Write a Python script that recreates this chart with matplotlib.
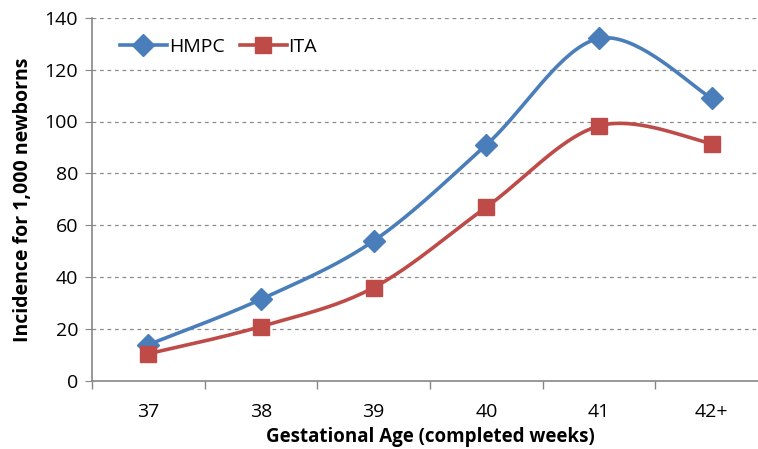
import numpy as np
import matplotlib.pyplot as plt
from matplotlib.ticker import FixedLocator

weeks = ['37', '38', '39', '40', '41', '42+']
hmpc = [14, 31.5, 54, 91, 132, 109]
ita = [10.5, 21, 36, 67, 98.3, 91.5]


def smooth(y, n=40):
    # Catmull-Rom through the points, like Excel's smoothed line
    y = np.asarray(y, dtype=float)
    x = np.arange(len(y), dtype=float)
    px = np.concatenate([[x[0]], x, [x[-1]]])
    py = np.concatenate([[y[0]], y, [y[-1]]])
    xs, ys = [], []
    t = np.linspace(0, 1, n)
    for i in range(1, len(px) - 2):
        for p, out in ((px, xs), (py, ys)):
            p0, p1, p2, p3 = p[i - 1], p[i], p[i + 1], p[i + 2]
            out.extend(0.5 * (2 * p1 + (-p0 + p2) * t
                              + (2 * p0 - 5 * p1 + 4 * p2 - p3) * t ** 2
                              + (-p0 + 3 * p1 - 3 * p2 + p3) * t ** 3))
    return np.array(xs), np.array(ys)


plt.rcParams['font.family'] = ['Open Sans', 'DejaVu Sans']

fig = plt.figure(figsize=(7.58, 4.49), dpi=100)
ax = fig.add_axes([92 / 758, 68 / 449, 676 / 758, 363.3 / 449])

blue = '#4A7EBB'
red = '#BE4B48'
idx = np.arange(len(weeks))

sx, sy = smooth(hmpc)
ax.plot(sx, sy, color=blue, lw=2.6, zorder=3)
ax.plot(idx, hmpc, 'D', color=blue, ms=11, zorder=4)
sx, sy = smooth(ita)
ax.plot(sx, sy, color=red, lw=2.6, zorder=3)
ax.plot(idx, ita, 's', color=red, ms=12, zorder=4)

# legend proxies
ax.plot([], [], color=blue, lw=2.6, marker='D', ms=11, label='HMPC')
ax.plot([], [], color=red, lw=2.6, marker='s', ms=12, label='ITA')
ax.legend(loc='upper left', bbox_to_anchor=(0.03, 0.965), ncol=2, frameon=False,
          fontsize=14, handlelength=2.4, columnspacing=0.8, handletextpad=0.1,
          borderaxespad=0)

ax.set_xlim(-0.5, 5.5)
ax.set_ylim(0, 140)
ax.set_yticks(range(0, 141, 20))
ax.set_xticks(idx)
ax.set_xticklabels(weeks)
ax.xaxis.set_minor_locator(FixedLocator(np.arange(-0.5, 6, 1)))
ax.tick_params(axis='x', which='major', length=0, pad=16, labelsize=14)
ax.tick_params(axis='x', which='minor', length=6, color='#868686', width=1)
ax.tick_params(axis='y', length=5, color='#868686', labelsize=14, pad=5)

for y in range(20, 141, 20):
    ax.axhline(y, color='#8c8c8c', lw=0.9, ls=(0, (3, 3)), zorder=1)

for side in ['top', 'right']:
    ax.spines[side].set_visible(False)
for side in ['left', 'bottom']:
    ax.spines[side].set_color('#868686')
    ax.spines[side].set_linewidth(1.2)

ax.set_xlabel('Gestational Age (completed weeks)', fontsize=13.5, fontweight='bold', labelpad=4)
ax.set_ylabel('Incidence for 1,000 newborns', fontsize=14, fontweight='bold', labelpad=8)

fig.savefig('out.png', dpi=100)
